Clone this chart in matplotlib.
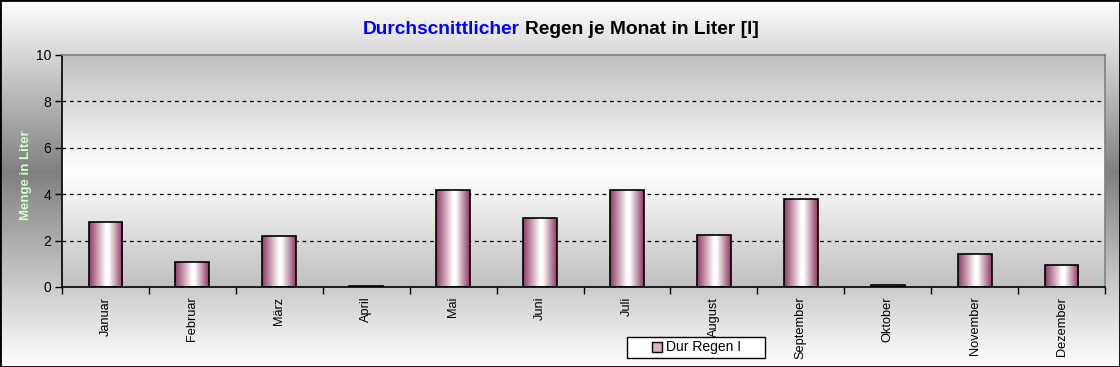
import numpy as np
import matplotlib.pyplot as plt
from matplotlib.colors import LinearSegmentedColormap
from matplotlib.patches import Patch, Rectangle
from matplotlib.offsetbox import TextArea, HPacker, AnnotationBbox

plt.rcParams['font.family'] = ['Liberation Sans', 'DejaVu Sans']

# data
monate = ["Januar", "Februar", "März", "April", "Mai", "Juni", "Juli",
          "August", "September", "Oktober", "November", "Dezember"]
regen = [2.8, 1.08, 2.2, 0.05, 4.18, 2.97, 4.18, 2.24, 3.79, 0.08, 1.42, 0.95]
serie = "Dur Regen I"
titel_blau = "Durchscnittlicher"
titel_rest = "Regen je Monat in Liter [l]"
y_label = "Menge in Liter"
y_ticks = [0, 2, 4, 6, 8, 10]

W, H = 1120, 367
fig = plt.figure(figsize=(W / 100, H / 100), dpi=100)

# Hintergrund der Figur: weiss - grau - weiss (vertikal)
bg = fig.add_axes([0, 0, 1, 1], zorder=-5)
bg_cmap = LinearSegmentedColormap.from_list(
    "bg", [(0, "#ffffff"), (0.47, "#808080"), (1, "#ffffff")])
bg.imshow(np.linspace(0, 1, 256).reshape(-1, 1), aspect="auto", cmap=bg_cmap,
          extent=[0, 1, 0, 1], origin="upper")
bg.set_xlim(0, 1)
bg.set_ylim(0, 1)
bg.set_xticks([])
bg.set_yticks([])
for s in bg.spines.values():
    s.set_color("black")
    s.set_linewidth(2)

# Plotbereich
x0, x1, yt, yb = 62, 1105, 55, 287
ax = fig.add_axes([x0 / W, (H - yb) / H, (x1 - x0) / W, (yb - yt) / H])
ax.patch.set_visible(False)
n = len(monate)
xlo, xhi = -0.5, n - 0.5
plot_cmap = LinearSegmentedColormap.from_list(
    "pa", [(0, "#c0c0c0"), (0.5, "#ffffff"), (1, "#c0c0c0")])
ax.imshow(np.linspace(0, 1, 256).reshape(-1, 1), aspect="auto", cmap=plot_cmap,
          extent=[xlo, xhi, 0, 10], origin="upper", zorder=0)

# Gitterlinien
for t in y_ticks[1:-1]:
    ax.axhline(t, color="black", lw=0.9, ls=(0, (3, 3)), zorder=1)

# Balken mit horizontalem Farbverlauf
bar_cmap = LinearSegmentedColormap.from_list(
    "bar", [(0, "#8e3963"), (0.5, "#ffffff"), (0.58, "#ffffff"), (1, "#8e3963")])
xs = np.arange(n)
bars = ax.bar(xs, regen, width=0.39, facecolor="none", edgecolor="black",
              linewidth=1.2, zorder=3)
grad = np.linspace(0, 1, 128).reshape(1, -1)
for b in bars:
    bx, bw, bh = b.get_x(), b.get_width(), b.get_height()
    im = ax.imshow(grad, aspect="auto", cmap=bar_cmap,
                   extent=[bx, bx + bw, 0, bh], zorder=2)
    im.set_clip_path(b)

ax.set_xlim(xlo, xhi)
ax.set_ylim(0, 10)

# Achsen
ax.spines["left"].set_color("black")
ax.spines["bottom"].set_color("black")
ax.spines["top"].set_color("#808080")
ax.spines["right"].set_color("#808080")
for s in ax.spines.values():
    s.set_linewidth(1.2)
ax.set_yticks(y_ticks)
ax.set_yticklabels([str(t) for t in y_ticks], fontsize=10)
ax.set_xticks(np.arange(n + 1) - 0.5)
ax.set_xticklabels([])
ax.set_xticks(xs, minor=True)
ax.set_xticklabels(monate, minor=True, rotation=90, fontsize=9.2)
ax.tick_params(axis="x", which="major", direction="out", length=5, width=1)
ax.tick_params(axis="x", which="minor", length=0, pad=7)
ax.tick_params(axis="y", direction="out", length=5, width=1, pad=3)

# Titel zweifarbig
ta1 = TextArea(titel_blau, textprops=dict(color="#0000ff", fontsize=13.8,
                                          fontweight="bold"))
ta2 = TextArea(titel_rest, textprops=dict(color="black", fontsize=13.8,
                                          fontweight="bold"))
box = HPacker(children=[ta1, ta2], pad=0, sep=4, align="baseline")
fig.add_artist(AnnotationBbox(box, (561 / W, (H - 30) / H), xycoords="figure fraction",
                              frameon=False, box_alignment=(0.5, 0.5)))

# y-Achsenbeschriftung
fig.text(26 / W, (H - 175) / H, y_label, rotation=90, color="#ccffcc",
         fontsize=9.5, fontweight="bold", ha="center", va="center")

# Legende
fig.add_artist(Rectangle((627 / W, (H - 358) / H), 138 / W, 21 / H,
                         transform=fig.transFigure, facecolor="white",
                         edgecolor="black", lw=1, zorder=5))
leg = fig.legend([Patch(facecolor="#d8aec2", edgecolor="black", lw=1)], [serie],
                 loc="center", bbox_to_anchor=(697 / W, (H - 347.5) / H),
                 fontsize=10, frameon=False,
                 handlelength=0.7, handleheight=0.7, handletextpad=0.3,
                 borderpad=0, borderaxespad=0)
leg.set_zorder(6)

fig.savefig("out.png", dpi=100)
